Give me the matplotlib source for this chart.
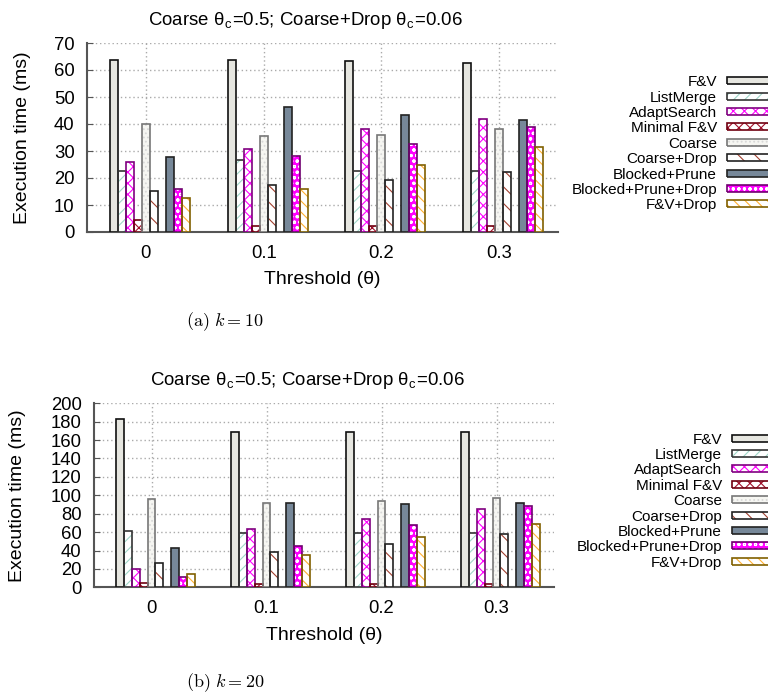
import numpy as np
import matplotlib
matplotlib.use('Agg')
import matplotlib.pyplot as plt
from matplotlib.patches import Rectangle

plt.rcParams['font.family'] = ['Liberation Sans', 'DejaVu Sans']
plt.rcParams['mathtext.fontset'] = 'cm'
plt.rcParams['hatch.linewidth'] = 0.8

# data
thresholds = ['0', '0.1', '0.2', '0.3']
methods = ['F&V', 'ListMerge', 'AdaptSearch', 'Minimal F&V', 'Coarse',
           'Coarse+Drop', 'Blocked+Prune', 'Blocked+Prune+Drop', 'F&V+Drop']

k10_fv = [63.8, 63.6, 63.3, 62.6]
k10_listmerge = [22.7, 26.5, 22.7, 22.7]
k10_adapt = [26.0, 30.7, 38.3, 41.8]
k10_minimal = [4.3, 2.4, 2.4, 2.4]
k10_coarse = [39.9, 35.6, 36.1, 38.1]
k10_coarse_drop = [15.2, 17.5, 19.1, 22.1]
k10_blocked = [27.6, 46.2, 43.3, 41.4]
k10_blocked_drop = [16.0, 28.0, 32.7, 38.8]
k10_fv_drop = [12.6, 16.0, 24.9, 31.4]

k20_fv = [183, 168.8, 168.8, 169]
k20_listmerge = [61.5, 58.7, 58.7, 58.7]
k20_adapt = [19.5, 63, 73.9, 84.8]
k20_minimal = [4.3, 3.3, 3.3, 3.3]
k20_coarse = [95.6, 92, 93.8, 97]
k20_coarse_drop = [26.8, 38.7, 47, 57.6]
k20_blocked = [42.7, 91.3, 90.5, 91.3]
k20_blocked_drop = [11.6, 44.6, 67.7, 88]
k20_fv_drop = [14.8, 35.4, 54.3, 68.8]

k10 = [k10_fv, k10_listmerge, k10_adapt, k10_minimal, k10_coarse,
       k10_coarse_drop, k10_blocked, k10_blocked_drop, k10_fv_drop]
k20 = [k20_fv, k20_listmerge, k20_adapt, k20_minimal, k20_coarse,
       k20_coarse_drop, k20_blocked, k20_blocked_drop, k20_fv_drop]

# (face, hatch, hatch colour, outline)
styles = [
    ('#e6e6e0', None, '#e6e6e0', '#111111'),
    ('white', '///', '#9fd6c8', '#333333'),
    ('white', 'xxx', '#ff00ff', '#800080'),
    ('white', 'xxx', '#a0102a', '#700010'),
    ('#f6f6f2', '....', '#d8d8d8', '#777777'),
    ('white', '\\\\', '#a04030', '#222222'),
    ('#778899', None, '#778899', '#222222'),
    ('#ff00ff', 'ooo', 'white', '#700070'),
    ('white', '\\\\\\', '#ffb030', '#806000'),
]
# slot of each bar inside a group (slot 6 is left empty)
slots = [0, 1, 2, 3, 4, 5, 7, 8, 9]
w = 0.068

W, H = 768, 695
fig = plt.figure(figsize=(W / 100, H / 100), dpi=100)


def draw(ax, data, ymax, step, labelx):
    x = np.arange(len(thresholds))
    for vals, (fc, h, hc, ec), s in zip(data, styles, slots):
        pos = x + (s - 4.5) * w
        ax.bar(pos, vals, w, align='edge', color=fc, edgecolor=hc,
               hatch=h, linewidth=0, zorder=3)
        ax.bar(pos, vals, w, align='edge', fill=False, edgecolor=ec,
               linewidth=1.2, zorder=4)
    ax.set_xlim(-0.5, 3.5)
    ax.set_ylim(0, ymax)
    ax.set_yticks(np.arange(0, ymax + 1, step))
    ax.set_xticks(x)
    ax.set_xticklabels(thresholds)
    ax.grid(True, linestyle=(0, (1, 2)), color='#aaaaaa', linewidth=1, zorder=0)
    for sp in ['top', 'right']:
        ax.spines[sp].set_visible(False)
    for sp in ['left', 'bottom']:
        ax.spines[sp].set_color('#555555')
        ax.spines[sp].set_linewidth(1.5)
    ax.tick_params(axis='y', direction='in', length=4, color='#555555',
                   labelsize=13.3, pad=9)
    ax.tick_params(axis='x', length=0, labelsize=13.3, pad=9)
    ax.set_ylabel('Execution time (ms)', fontsize=14)
    ax.yaxis.set_label_coords(labelx, 0.5)
    ax.set_xlabel('Threshold (θ)', fontsize=14, labelpad=7)
    ax.set_title(r'Coarse θ$_\mathregular{c}$=0.5; Coarse+Drop θ$_\mathregular{c}$=0.06',
                 fontsize=13.4, pad=13, x=0.464)


def key(y0, xtext, xbox):
    # legend in the gnuplot style: label right-aligned, swatch to its right
    for i, (name, (fc, h, hc, ec)) in enumerate(zip(methods, styles)):
        yc = y0 + 15.4 * i
        fig.text(xtext / W, 1 - (yc + 5.5) / H, name, ha='right',
                 va='baseline', fontsize=11)
        rect = (xbox / W, 1 - (yc + 3.5) / H)
        fig.add_artist(Rectangle(rect, 50 / W, 7 / H, transform=fig.transFigure,
                                 facecolor=fc, edgecolor=hc, hatch=h,
                                 linewidth=0))
        fig.add_artist(Rectangle(rect, 50 / W, 7 / H, transform=fig.transFigure,
                                 fill=False, edgecolor=ec, linewidth=1.2))


ax1 = fig.add_axes([87 / W, 1 - 232 / H, 471 / W, 189 / H])
draw(ax1, k10, 70, 10, -0.119)
ax2 = fig.add_axes([94 / W, 1 - 587.3 / H, 460 / W, 184 / H])
draw(ax2, k20, 200, 20, -0.148)

key(80.7, 717, 727)
key(438, 722, 732)

fig.text(225 / W, 1 - 322 / H, r'$\mathrm{(a)}\ k = 10$', ha='center',
         va='center', fontsize=13)
fig.text(225 / W, 1 - 683 / H, r'$\mathrm{(b)}\ k = 20$', ha='center',
         va='center', fontsize=13)

fig.savefig('out.png', dpi=100)
